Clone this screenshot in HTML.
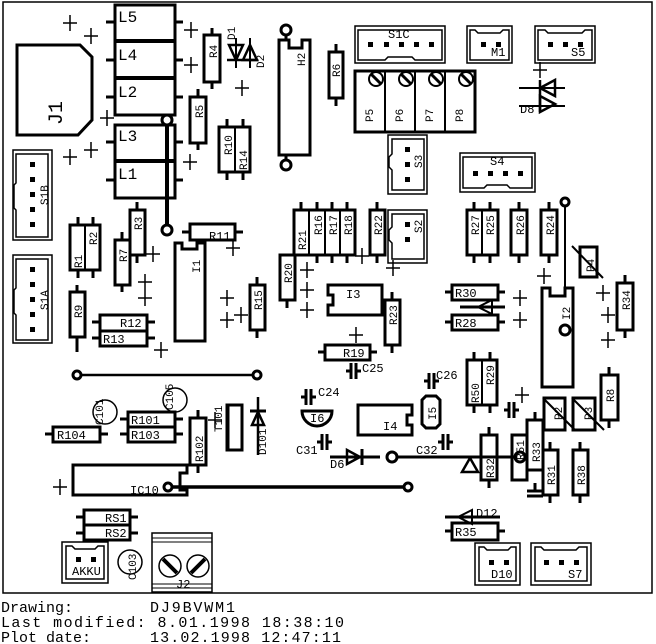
<!DOCTYPE html><html><head><style>html,body{margin:0;padding:0;background:#fff;width:656px;height:644px;overflow:hidden}svg{display:block}text{font-family:"Liberation Mono",monospace;fill:#000}</style></head><body>
<svg width="656" height="644" viewBox="0 0 656 644" xmlns="http://www.w3.org/2000/svg">
<g fill="none" stroke="#000" stroke-width="2">
<rect x="3" y="2" width="649" height="591" stroke-width="1.5"/>
<rect x="115" y="5" width="60" height="110" stroke-width="3"/>
<line x1="115" y1="41" x2="175" y2="41" stroke-width="4"/><line x1="115" y1="78" x2="175" y2="78" stroke-width="4"/>
<rect x="115" y="125" width="60" height="73" stroke-width="3"/>
<line x1="115" y1="161" x2="175" y2="161" stroke-width="4"/>
<g stroke-width="3"><line x1="106" y1="22" x2="115" y2="22"/><line x1="175" y1="22" x2="183" y2="22"/><line x1="106" y1="60" x2="115" y2="60"/><line x1="175" y1="60" x2="183" y2="60"/><line x1="106" y1="97" x2="115" y2="97"/><line x1="175" y1="97" x2="183" y2="97"/><line x1="106" y1="142" x2="115" y2="142"/><line x1="175" y1="142" x2="183" y2="142"/><line x1="106" y1="180" x2="115" y2="180"/><line x1="175" y1="180" x2="183" y2="180"/></g>
<line x1="167" y1="120" x2="167" y2="230" stroke-width="4"/>
<circle cx="167" cy="120" r="5" stroke-width="3" fill="#fff"/><circle cx="167" cy="230" r="5" stroke-width="3" fill="#fff"/>
<polygon points="17,45 80,45 92,57 92,120 78,135 17,135" stroke-width="3"/>
<rect x="13" y="150" width="39" height="90" stroke-width="1.5"/><path d="M16 154H48V237H16V210L14 208V185L16 183Z" stroke-width="1.5"/>
<rect x="13" y="255" width="39" height="88" stroke-width="1.5"/><path d="M16 259H48V340H16V315L14 313V290L16 288Z" stroke-width="1.5"/>
<rect x="204" y="35" width="16" height="47" stroke-width="3"/><line x1="212" y1="28" x2="212" y2="35" stroke-width="3"/><line x1="212" y1="82" x2="212" y2="89" stroke-width="3"/>
<rect x="190" y="97" width="16" height="46" stroke-width="3"/><line x1="198" y1="89" x2="198" y2="97" stroke-width="3"/><line x1="198" y1="143" x2="198" y2="150" stroke-width="3"/>
<rect x="219" y="127" width="31" height="45" stroke-width="3"/><line x1="235" y1="127" x2="235" y2="172"/><line x1="227" y1="119" x2="227" y2="127" stroke-width="3"/><line x1="243" y1="119" x2="243" y2="127" stroke-width="3"/><line x1="227" y1="172" x2="227" y2="180" stroke-width="3"/><line x1="243" y1="172" x2="243" y2="180" stroke-width="3"/>
<polygon points="229,45 243,45 236,60" stroke-width="2.5"/><polygon points="243,60 257,60 250,45" stroke-width="2.5"/><line x1="227" y1="60" x2="258" y2="60" stroke-width="2.5"/><line x1="236" y1="38" x2="236" y2="68"/><line x1="250" y1="38" x2="250" y2="68"/>
<path d="M279 40H289V48H302V40H310V155H279Z" stroke-width="3"/><line x1="286" y1="30" x2="286" y2="40" stroke-width="3"/><line x1="286" y1="155" x2="286" y2="165" stroke-width="3"/>
<circle cx="286" cy="30" r="5" stroke-width="3" fill="#fff"/><circle cx="286" cy="165" r="5" stroke-width="3" fill="#fff"/>
<rect x="329" y="52" width="14" height="46" stroke-width="3"/><line x1="336" y1="44" x2="336" y2="52" stroke-width="3"/><line x1="336" y1="98" x2="336" y2="106" stroke-width="3"/>
<rect x="355" y="26" width="90" height="37" stroke-width="1.5"/><path d="M358 30H442V60H415L412 57H388L385 60H358Z" stroke-width="1.5"/>
<rect x="467" y="26" width="45" height="37" stroke-width="1.5"/><path d="M470 30H475L478 33H500L503 30H509V60H470Z" stroke-width="1.5"/>
<rect x="535" y="26" width="60" height="37" stroke-width="1.5"/><path d="M538 30H545L548 33H582L585 30H592V60H538Z" stroke-width="1.5"/>
<rect x="355" y="71" width="120" height="61" stroke-width="3"/><line x1="385" y1="71" x2="385" y2="132" stroke-width="2"/><line x1="415" y1="71" x2="415" y2="132"/><line x1="445" y1="71" x2="445" y2="132"/>
<g stroke-width="2"><circle cx="376" cy="79" r="7"/><circle cx="406" cy="79" r="7"/><circle cx="436" cy="79" r="7"/><circle cx="466" cy="79" r="7"/></g>
<g stroke-width="3"><line x1="371" y1="74" x2="381" y2="84"/><line x1="401" y1="74" x2="411" y2="84"/><line x1="431" y1="74" x2="441" y2="84"/><line x1="461" y1="74" x2="471" y2="84"/></g>
<rect x="388" y="135" width="39" height="59" stroke-width="1.5"/><path d="M392 139H424V190H392V170L389 167V157L392 154Z" stroke-width="1.5"/>
<rect x="460" y="153" width="75" height="39" stroke-width="1.5"/><path d="M463 157H532V188H510L507 185H487L484 188H463Z" stroke-width="1.5"/>
<rect x="388" y="210" width="39" height="53" stroke-width="1.5"/><path d="M392 214H424V259H392V243L389 240V230L392 227Z" stroke-width="1.5"/>
<polygon points="540,88 555,80 555,96" stroke-width="2.5"/><polygon points="540,96 555,104 540,112" stroke-width="2.5"/><line x1="519" y1="88" x2="565" y2="88"/><line x1="519" y1="106" x2="565" y2="106"/><line x1="540" y1="80" x2="540" y2="112" stroke-width="2.5"/>
<rect x="70" y="225" width="30" height="45" stroke-width="3"/><line x1="85" y1="225" x2="85" y2="270"/>
<rect x="130" y="210" width="15" height="45" stroke-width="3"/><rect x="115" y="240" width="15" height="45" stroke-width="3"/>
<rect x="190" y="224" width="45" height="16" stroke-width="3"/><line x1="182" y1="232" x2="190" y2="232" stroke-width="3"/><line x1="235" y1="232" x2="243" y2="232" stroke-width="3"/>
<path d="M175 243H182V249H197V243H205V341H175Z" stroke-width="3"/>
<rect x="294" y="210" width="61" height="45" stroke-width="3"/><line x1="309" y1="210" x2="309" y2="255"/><line x1="325" y1="210" x2="325" y2="255"/><line x1="340" y1="210" x2="340" y2="255"/>
<rect x="370" y="210" width="15" height="45" stroke-width="3"/>
<rect x="280" y="255" width="15" height="45" stroke-width="3"/><rect x="250" y="285" width="15" height="45" stroke-width="3"/>
<rect x="467" y="210" width="31" height="45" stroke-width="3"/><line x1="482" y1="210" x2="482" y2="255"/>
<rect x="511" y="210" width="16" height="45" stroke-width="3"/><rect x="541" y="210" width="16" height="45" stroke-width="3"/>
<line x1="565" y1="202" x2="565" y2="295" stroke-width="2"/><circle cx="565" cy="202" r="4" stroke-width="3" fill="#fff"/>
<rect x="580" y="247" width="17" height="30" stroke-width="3"/><line x1="572" y1="246" x2="603" y2="278" stroke-width="2"/>
<path d="M542 288H550V296H565V288H573V387H542Z" stroke-width="3"/><circle cx="565" cy="330" r="5" stroke-width="3" fill="#fff"/>
<rect x="617" y="283" width="16" height="47" stroke-width="3"/>
<path d="M328 285H382V315H328V305H333V295H328Z" stroke-width="3"/>
<rect x="385" y="300" width="15" height="45" stroke-width="3"/>
<rect x="325" y="345" width="45" height="15" stroke-width="3"/>
<rect x="452" y="285" width="46" height="15" stroke-width="3"/><rect x="452" y="315" width="46" height="15" stroke-width="3"/>
<polygon points="478,307 492,300 492,314" stroke-width="2"/><line x1="460" y1="307" x2="505" y2="307" stroke-width="3"/>
<rect x="100" y="315" width="47" height="16" stroke-width="3"/><rect x="100" y="331" width="47" height="15" stroke-width="3"/>
<rect x="70" y="292" width="15" height="45" stroke-width="3"/>
<line x1="77" y1="375" x2="257" y2="375" stroke-width="2.5"/><circle cx="77" cy="375" r="4" stroke-width="3" fill="#fff"/><circle cx="257" cy="375" r="4" stroke-width="3" fill="#fff"/>
<rect x="467" y="360" width="30" height="45" stroke-width="3"/><line x1="482" y1="360" x2="482" y2="405"/>
<rect x="544" y="398" width="21" height="32" stroke-width="3"/><line x1="543" y1="398" x2="575" y2="430"/>
<rect x="573" y="398" width="22" height="32" stroke-width="3"/><line x1="572" y1="398" x2="604" y2="430"/>
<rect x="601" y="375" width="17" height="45" stroke-width="3"/>
<rect x="481" y="435" width="16" height="45" stroke-width="3"/><rect x="512" y="435" width="15" height="45" stroke-width="3"/>
<rect x="527" y="420" width="16" height="50" stroke-width="3"/><rect x="543" y="450" width="15" height="45" stroke-width="3"/><rect x="573" y="450" width="15" height="45" stroke-width="3"/>
<line x1="392" y1="457" x2="525" y2="457" stroke-width="3"/><circle cx="392" cy="457" r="5" stroke-width="3" fill="#fff"/><circle cx="520" cy="457" r="5" stroke-width="3" fill="#fff"/>
<polygon points="470,458 478,472 462,472" stroke-width="2.5"/>
<path d="M358 405H412V415H407V425H412V435H358Z" stroke-width="3"/>
<path d="M426 396H436L440 400V424L436 428H426L422 424V400Z" stroke-width="3"/>
<path d="M302 411H332A15 15 0 0 1 302 411Z" stroke-width="3"/>
<line x1="330" y1="457" x2="380" y2="457" stroke-width="3"/><polygon points="347,450 347,464 360,457" stroke-width="2.5"/><line x1="362" y1="449" x2="362" y2="465" stroke-width="3"/>
<path d="M73 465H187V473H180V490H187V495H73Z" stroke-width="3"/>
<line x1="168" y1="487" x2="405" y2="487" stroke-width="3.5"/><circle cx="168" cy="487" r="4" stroke-width="3" fill="#fff"/><circle cx="408" cy="487" r="4" stroke-width="3" fill="#fff"/>
<rect x="53" y="427" width="47" height="15" stroke-width="3"/>
<rect x="128" y="412" width="47" height="15" stroke-width="3"/><rect x="128" y="427" width="47" height="15" stroke-width="3"/>
<rect x="190" y="418" width="16" height="47" stroke-width="3"/>
<rect x="227" y="405" width="15" height="45" stroke-width="3"/><line x1="228" y1="405" x2="228" y2="450" stroke-width="3"/>
<line x1="258" y1="397" x2="258" y2="455" stroke-width="2.5"/><polygon points="252,425 264,425 258,412" stroke-width="2.5"/><line x1="250" y1="411" x2="266" y2="411" stroke-width="3"/>
<circle cx="105" cy="412" r="12" stroke-width="1.5"/><circle cx="175" cy="400" r="12" stroke-width="1.5"/><circle cx="130" cy="562" r="12" stroke-width="1.5"/>
<rect x="84" y="510" width="46" height="15" stroke-width="3"/><rect x="84" y="525" width="46" height="15" stroke-width="3"/>
<rect x="62" y="542" width="46" height="41" stroke-width="1.5"/><path d="M66 546H72L75 549H95L98 546H104V579H66Z" stroke-width="1.5"/>
<rect x="152" y="533" width="60" height="59" stroke-width="1.5"/><line x1="152" y1="538" x2="212" y2="538" stroke-width="1"/><line x1="152" y1="542" x2="212" y2="542" stroke-width="1"/><line x1="152" y1="584" x2="212" y2="584" stroke-width="1"/><line x1="152" y1="588" x2="212" y2="588" stroke-width="1"/>
<circle cx="170" cy="566" r="11" stroke-width="1.5"/><circle cx="198" cy="566" r="11" stroke-width="1.5"/>
<line x1="163" y1="559" x2="177" y2="573" stroke-width="4"/><line x1="191" y1="573" x2="205" y2="559" stroke-width="4"/>
<rect x="452" y="523" width="46" height="17" stroke-width="3"/><line x1="445" y1="517" x2="500" y2="517" stroke-width="3"/><polygon points="458,517 472,510 472,524" stroke-width="2"/>
<rect x="475" y="543" width="45" height="42" stroke-width="1.5"/><path d="M479 547H484L487 550H508L511 547H516V581H479Z" stroke-width="1.5"/>
<rect x="531" y="543" width="60" height="42" stroke-width="1.5"/><path d="M535 547H541L544 550H576L579 547H587V581H535Z" stroke-width="1.5"/>
</g>
<g stroke="#000" stroke-width="3">
<line x1="78" y1="217" x2="78" y2="225"/><line x1="93" y1="217" x2="93" y2="225"/><line x1="78" y1="270" x2="78" y2="278"/><line x1="93" y1="270" x2="93" y2="278"/>
<line x1="137" y1="202" x2="137" y2="210"/><line x1="137" y1="255" x2="137" y2="263"/><line x1="122" y1="232" x2="122" y2="240"/><line x1="122" y1="285" x2="122" y2="292"/>
<line x1="301" y1="202" x2="301" y2="210"/><line x1="317" y1="202" x2="317" y2="210"/><line x1="332" y1="202" x2="332" y2="210"/><line x1="347" y1="202" x2="347" y2="210"/><line x1="377" y1="202" x2="377" y2="210"/><line x1="377" y1="255" x2="377" y2="263"/><line x1="317" y1="255" x2="317" y2="263"/><line x1="332" y1="255" x2="332" y2="263"/><line x1="347" y1="255" x2="347" y2="263"/>
<line x1="287" y1="300" x2="287" y2="308"/><line x1="257" y1="277" x2="257" y2="285"/><line x1="257" y1="330" x2="257" y2="338"/>
<line x1="474" y1="202" x2="474" y2="210"/><line x1="490" y1="202" x2="490" y2="210"/><line x1="474" y1="255" x2="474" y2="263"/><line x1="490" y1="255" x2="490" y2="263"/><line x1="519" y1="202" x2="519" y2="210"/><line x1="519" y1="255" x2="519" y2="263"/><line x1="549" y1="202" x2="549" y2="210"/><line x1="549" y1="255" x2="549" y2="263"/>
<line x1="625" y1="275" x2="625" y2="283"/><line x1="625" y1="330" x2="625" y2="338"/>
<line x1="392" y1="292" x2="392" y2="300"/><line x1="392" y1="345" x2="392" y2="353"/><line x1="318" y1="352" x2="325" y2="352"/><line x1="370" y1="352" x2="377" y2="352"/>
<line x1="445" y1="292" x2="452" y2="292"/><line x1="498" y1="292" x2="505" y2="292"/><line x1="445" y1="322" x2="452" y2="322"/><line x1="498" y1="322" x2="505" y2="322"/>
<line x1="92" y1="322" x2="100" y2="322"/><line x1="147" y1="322" x2="155" y2="322"/><line x1="92" y1="338" x2="100" y2="338"/><line x1="147" y1="338" x2="155" y2="338"/><line x1="77" y1="285" x2="77" y2="292"/><line x1="77" y1="337" x2="77" y2="352"/>
<line x1="474" y1="352" x2="474" y2="360"/><line x1="490" y1="352" x2="490" y2="360"/><line x1="474" y1="405" x2="474" y2="413"/><line x1="490" y1="405" x2="490" y2="413"/>
<line x1="609" y1="367" x2="609" y2="375"/><line x1="609" y1="420" x2="609" y2="428"/>
<line x1="489" y1="427" x2="489" y2="435"/><line x1="489" y1="480" x2="489" y2="488"/><line x1="535" y1="412" x2="535" y2="420"/><line x1="550" y1="442" x2="550" y2="450"/><line x1="550" y1="495" x2="550" y2="503"/><line x1="580" y1="442" x2="580" y2="450"/><line x1="580" y1="495" x2="580" y2="503"/>
<line x1="45" y1="434" x2="53" y2="434"/><line x1="100" y1="434" x2="108" y2="434"/><line x1="120" y1="419" x2="128" y2="419"/><line x1="175" y1="419" x2="183" y2="419"/><line x1="120" y1="434" x2="128" y2="434"/><line x1="175" y1="434" x2="183" y2="434"/>
<line x1="198" y1="410" x2="198" y2="418"/><line x1="198" y1="465" x2="198" y2="473"/>
<line x1="76" y1="517" x2="84" y2="517"/><line x1="130" y1="517" x2="138" y2="517"/><line x1="76" y1="533" x2="84" y2="533"/><line x1="130" y1="533" x2="138" y2="533"/>
<line x1="445" y1="531" x2="452" y2="531"/><line x1="498" y1="531" x2="505" y2="531"/>
</g>
<g stroke="#000" stroke-width="1.5">
<path d="M63 23h14M70 15v16M84 36h14M91 28v16M184 30h14M191 22v16M184 65h14M191 57v16M235 88h14M242 80v16M100 118h14M107 110v16M84 150h14M91 142v16M63 157h14M70 149v16M183 162h14M190 154v16M226 248h14M233 240v16M146 254h14M153 246v16M138 282h14M145 274v16M138 298h14M145 290v16M220 298h14M227 290v16M234 315h14M241 307v16M220 320h14M227 312v16M154 350h14M161 342v16M300 270h14M307 262v16M300 290h14M307 282v16M300 310h14M307 302v16M355 256h14M362 248v16M386 268h14M393 260v16M349 335h14M356 327v16M513 298h14M520 290v16M513 320h14M520 312v16M537 276h14M544 268v16M596 293h14M603 285v16M601 315h14M608 307v16M601 340h14M608 332v16M53 487h14M60 479v16M208 420h14M215 412v16M533 70h14M540 62v16M515 395h14M522 387v16"/>
</g>
<g stroke="#000" stroke-width="3" fill="none">
<path d="M301 397h5M306 389v16M311 389v16M311 397h5"/>
<path d="M346 371h5M351 363v16M356 363v16M356 371h5"/>
<path d="M424 381h5M429 373v16M434 373v16M434 381h5"/>
<path d="M317 442h5M322 434v16M327 434v16M327 442h5"/>
<path d="M438 442h5M443 434v16M448 434v16M448 442h5"/>
<path d="M504 410h5M509 402v16M514 402v16M514 410h5"/>
<path d="M527 491h16M527 496h16M535 483v8"/>
</g>
<g fill="#000">
<rect x="30" y="162" width="5" height="5"/><rect x="30" y="177" width="5" height="5"/><rect x="30" y="192" width="5" height="5"/><rect x="30" y="207" width="5" height="5"/><rect x="30" y="222" width="5" height="5"/>
<rect x="30" y="267" width="5" height="5"/><rect x="30" y="282" width="5" height="5"/><rect x="30" y="297" width="5" height="5"/><rect x="30" y="312" width="5" height="5"/><rect x="30" y="327" width="5" height="5"/>
<rect x="368" y="42" width="5" height="5"/><rect x="384" y="42" width="5" height="5"/><rect x="399" y="42" width="5" height="5"/><rect x="414" y="42" width="5" height="5"/><rect x="429" y="42" width="5" height="5"/>
<rect x="481" y="42" width="5" height="5"/><rect x="496" y="42" width="5" height="5"/>
<rect x="548" y="42" width="5" height="5"/><rect x="563" y="42" width="5" height="5"/><rect x="578" y="42" width="5" height="5"/>
<rect x="405" y="147" width="5" height="5"/><rect x="405" y="162" width="5" height="5"/><rect x="405" y="177" width="5" height="5"/>
<rect x="473" y="171" width="5" height="5"/><rect x="488" y="171" width="5" height="5"/><rect x="503" y="171" width="5" height="5"/><rect x="518" y="171" width="5" height="5"/>
<rect x="405" y="222" width="5" height="5"/><rect x="405" y="237" width="5" height="5"/>
<rect x="76" y="557" width="5" height="5"/><rect x="91" y="557" width="5" height="5"/>
<rect x="489" y="560" width="5" height="5"/><rect x="504" y="560" width="5" height="5"/>
<rect x="544" y="560" width="5" height="5"/><rect x="559" y="560" width="5" height="5"/><rect x="574" y="560" width="5" height="5"/>
</g>
<g font-size="16"><text x="118" y="22">L5</text><text x="118" y="60">L4</text><text x="118" y="97">L2</text><text x="118" y="141">L3</text><text x="118" y="179">L1</text></g>
<text font-size="20" transform="translate(62,125) rotate(-90)">J1</text>
<g font-size="12">
<text x="209" y="240">R11</text><text x="120" y="327">R12</text><text x="103" y="343">R13</text><text x="343" y="357">R19</text><text x="455" y="297">R30</text><text x="455" y="327">R28</text>
<text x="57" y="439">R104</text><text x="131" y="424">R101</text><text x="131" y="439">R103</text><text x="105" y="522">RS1</text><text x="105" y="537">RS2</text><text x="455" y="536">R35</text>
<text x="346" y="298">I3</text><text x="383" y="430">I4</text><text x="310" y="422">I6</text><text x="130" y="494">IC10</text><text x="72" y="575">AKKU</text>
<text x="318" y="396">C24</text><text x="362" y="372">C25</text><text x="436" y="379">C26</text><text x="296" y="454">C31</text><text x="416" y="454">C32</text><text x="330" y="468">D6</text><text x="520" y="113">D8</text><text x="476" y="517">D12</text><text x="491" y="578">D10</text><text x="568" y="578">S7</text>
<text x="388" y="38">S1C</text><text x="491" y="56">M1</text><text x="571" y="56">S5</text><text x="490" y="165">S4</text><text x="176" y="588">J2</text>
</g>
<g font-size="11">
<text transform="translate(217,58) rotate(-90)">R4</text><text transform="translate(203,118) rotate(-90)">R5</text><text transform="translate(232,155) rotate(-90)">R10</text><text transform="translate(247,170) rotate(-90)">R14</text>
<text transform="translate(305,66) rotate(-90)">H2</text><text transform="translate(340,77) rotate(-90)">R6</text>
<text transform="translate(82,268) rotate(-90)">R1</text><text transform="translate(97,245) rotate(-90)">R2</text><text transform="translate(142,230) rotate(-90)">R3</text><text transform="translate(127,262) rotate(-90)">R7</text><text transform="translate(82,318) rotate(-90)">R9</text><text transform="translate(200,273) rotate(-90)">I1</text>
<text transform="translate(306,250) rotate(-90)">R21</text><text transform="translate(322,235) rotate(-90)">R16</text><text transform="translate(337,235) rotate(-90)">R17</text><text transform="translate(352,235) rotate(-90)">R18</text><text transform="translate(382,235) rotate(-90)">R22</text><text transform="translate(292,283) rotate(-90)">R20</text><text transform="translate(262,310) rotate(-90)">R15</text><text transform="translate(397,325) rotate(-90)">R23</text>
<text transform="translate(479,235) rotate(-90)">R27</text><text transform="translate(494,235) rotate(-90)">R25</text><text transform="translate(524,235) rotate(-90)">R26</text><text transform="translate(554,235) rotate(-90)">R24</text><text transform="translate(630,310) rotate(-90)">R34</text><text transform="translate(570,320) rotate(-90)">I2</text>
<text transform="translate(479,403) rotate(-90)">R50</text><text transform="translate(494,385) rotate(-90)">R29</text><text transform="translate(614,402) rotate(-90)">R8</text><text transform="translate(562,420) rotate(-90)">P2</text><text transform="translate(592,420) rotate(-90)">P3</text><text transform="translate(594,272) rotate(-90)">P4</text>
<text transform="translate(494,478) rotate(-90)">R32</text><text transform="translate(524,460) rotate(-90)">R51</text><text transform="translate(540,462) rotate(-90)">R33</text><text transform="translate(555,485) rotate(-90)">R31</text><text transform="translate(585,485) rotate(-90)">R38</text>
<text transform="translate(203,462) rotate(-90)">R102</text><text transform="translate(222,432) rotate(-90)">T101</text><text transform="translate(266,455) rotate(-90)">D101</text><text transform="translate(436,420) rotate(-90)">I5</text>
<text transform="translate(373,122) rotate(-90)">P5</text><text transform="translate(403,122) rotate(-90)">P6</text><text transform="translate(433,122) rotate(-90)">P7</text><text transform="translate(463,122) rotate(-90)">P8</text>
<text transform="translate(422,168) rotate(-90)">S3</text><text transform="translate(422,233) rotate(-90)">S2</text><text transform="translate(48,205) rotate(-90)">S1B</text><text transform="translate(48,310) rotate(-90)">S1A</text>
<text transform="translate(264,68) rotate(-90)">D2</text><text transform="translate(235,40) rotate(-90)">D1</text>
<text transform="translate(103,425) rotate(-90)">C101</text><text transform="translate(173,410) rotate(-90)">C105</text><text transform="translate(136,580) rotate(-90)">C103</text>
</g>
<g font-size="15" style="font-family:'DejaVu Sans Mono','Liberation Mono',monospace">
<text x="1" y="612">Drawing:</text><text x="150" y="612" textLength="85">DJ9BVWM1</text>
<text x="1" y="627" textLength="343">Last modified:  8.01.1998 18:38:10</text>
<text x="1" y="642">Plot date:</text><text x="150" y="642" textLength="191">13.02.1998 12:47:11</text>
</g>
</svg>
</body></html>
